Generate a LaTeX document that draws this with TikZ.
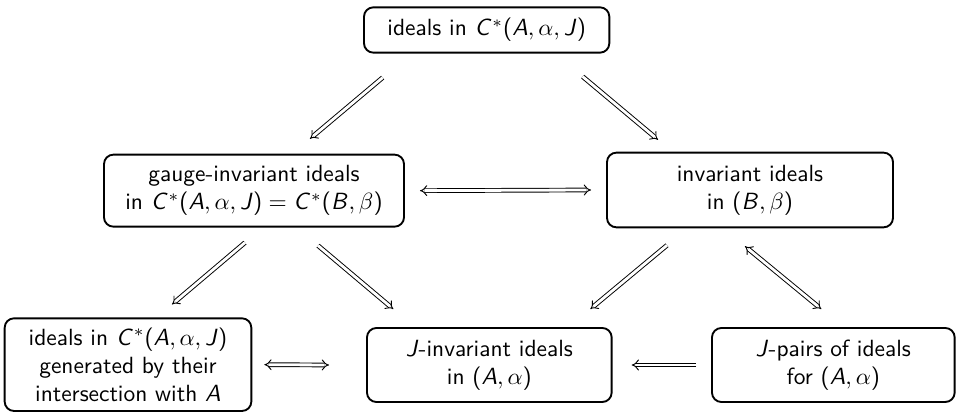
\documentclass[tikz,border=0pt]{standalone}
\usetikzlibrary{arrows}

% sans slanted letters in math
\DeclareSymbolFont{sfletters}{OT1}{cmss}{m}{sl}
\DeclareMathSymbol{A}{\mathalpha}{sfletters}{`A}
\DeclareMathSymbol{B}{\mathalpha}{sfletters}{`B}
\DeclareMathSymbol{C}{\mathalpha}{sfletters}{`C}
\DeclareMathSymbol{J}{\mathalpha}{sfletters}{`J}
\SetSymbolFont{operators}{normal}{OT1}{cmss}{m}{n}

\tikzset{
    idealbox/.style={draw, thick, rounded corners, align=center, font=\sffamily},
    impl/.style={double, double distance=1.2pt, -implies},
    biimpl/.style={double, double distance=1.2pt, implies-implies},
}

\begin{document}
\begin{tikzpicture}
    \useasboundingbox (0, 0) rectangle (14.34, 6.18);

    \node[idealbox, minimum width=3.68cm, minimum height=0.68cm] (top) at (7.3, 5.73) {ideals in $C^*(A, \alpha, J)$};

    \node[idealbox, minimum width=4.5cm, minimum height=1.08cm] (gauge) at (3.81, 3.32) {gauge-invariant ideals\\ in $C^*(A, \alpha, J) = C^*(B, \beta)$};
    \node[idealbox, minimum width=4.29cm, minimum height=1.12cm] (inv) at (11.25, 3.33) {invariant ideals\\ in $(B, \beta)$};

    \node[idealbox, minimum width=3.7cm, minimum height=1.39cm] (gen) at (1.92, 0.71) {ideals in $C^*(A, \alpha, J)$\\ generated by their\\ intersection with $A$};
    \node[idealbox, minimum width=3.67cm, minimum height=1.11cm] (jinv) at (7.34, 0.705) {$J$-invariant ideals\\ in $(A, \alpha)$};
    \node[idealbox, minimum width=3.64cm, minimum height=1.11cm] (jpair) at (12.5, 0.705) {$J$-pairs of ideals\\ for $(A, \alpha)$};

    \draw[impl] ([shift={(-1.56, -0.36)}]top.south) -- ([shift={(0.84, 0.225)}]gauge.north);
    \draw[impl] ([shift={(1.44, -0.345)}]top.south) -- ([shift={(-1.38, 0.18)}]inv.north);
    \draw[biimpl] ([xshift=0.225cm]gauge.east) -- ([xshift=-0.225cm]inv.west);

    \draw[impl] ([shift={(-0.135, -0.225)}]gauge.south) -- ([shift={(0.66, 0.195)}]gen.north);
    \draw[impl] ([shift={(0.96, -0.27)}]gauge.south) -- ([shift={(-1.44, 0.27)}]jinv.north);
    \draw[impl] ([shift={(-1.245, -0.255)}]inv.south) -- ([shift={(1.515, 0.27)}]jinv.north);
    \draw[biimpl] ([shift={(-0.075, -0.27)}]inv.south) -- ([shift={(-0.18, 0.27)}]jpair.north);

    \draw[biimpl] ([xshift=0.18cm]gen.east) -- ([xshift=-0.555cm]jinv.west);
    \draw[impl] ([xshift=-0.225cm]jpair.west) -- ([xshift=0.285cm]jinv.east);
\end{tikzpicture}
\end{document}
